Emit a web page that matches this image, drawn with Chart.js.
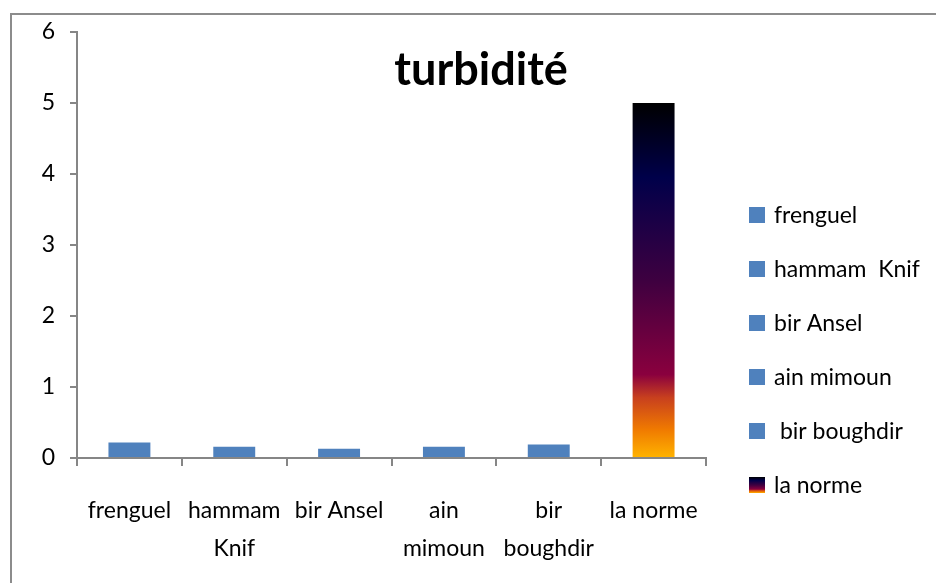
<!DOCTYPE html>
<html><head><meta charset="utf-8">
<script src="https://cdn.jsdelivr.net/npm/chart.js@4"></script>
<style>html,body{margin:0;padding:0;background:#fff}#wrap{width:936px;height:583px}</style>
</head><body><div id="wrap"><canvas id="c" width="936" height="583"></canvas></div>
<script>
const categories = [["frenguel"], ["hammam", "Knif"], ["bir Ansel"], ["ain", "mimoun"], ["bir", "boughdir"], ["la norme"]];
const legendLabels = ["frenguel", "hammam  Knif", "bir Ansel", "ain mimoun", " bir boughdir", "la norme"];
const turbidite = [0.22, 0.16, 0.13, 0.16, 0.19, 5];
const yTicks = [0, 1, 2, 3, 4, 5, 6];
const titleText = "turbidité";

const FONT = "Lato, 'Liberation Sans', sans-serif";
const BLUE = "#4F81BD";
const stops = [[0, "#FFB400"], [0.08, "#F07A00"], [0.17, "#C8401E"], [0.235, "#8A003E"], [0.5, "#3E0040"], [0.79, "#00004A"], [1, "#000000"]];

function makeGrad(ctx, yBottom, yTop) {
  const g = ctx.createLinearGradient(0, yBottom, 0, yTop);
  stops.forEach(s => g.addColorStop(s[0], s[1]));
  return g;
}

const framePlugin = {
  id: 'frame',
  beforeDraw(chart) {
    const ctx = chart.ctx;
    ctx.save();
    ctx.fillStyle = '#fff';
    ctx.fillRect(0, 0, chart.width, chart.height);
    ctx.strokeStyle = '#8c8c8c';
    ctx.lineWidth = 2;
    ctx.strokeRect(11, 14, 1000, 700);
    ctx.restore();
  },
  afterDraw(chart) {
    const ctx = chart.ctx;
    ctx.save();
    ctx.fillStyle = '#000';
    ctx.font = "bold 45px " + FONT;
    ctx.textAlign = 'center';
    ctx.textBaseline = 'middle';
    ctx.fillText(titleText, 481, 70);
    ctx.font = "23px " + FONT;
    ctx.textAlign = 'left';
    legendLabels.forEach((lab, i) => {
      const cy = 215 + i * 54;
      const isNorm = i === legendLabels.length - 1;
      ctx.fillStyle = isNorm ? makeGrad(ctx, cy + 8, cy - 8) : BLUE;
      ctx.fillRect(749, cy - 8, 16, 16);
      ctx.fillStyle = '#000';
      ctx.fillText(lab, 774, cy + 1);
    });
    ctx.restore();
  }
};

new Chart(document.getElementById('c'), {
  type: 'bar',
  data: {
    labels: categories,
    datasets: [{
      label: titleText,
      data: turbidite,
      backgroundColor(ctx) {
        const chart = ctx.chart;
        if (!chart.chartArea) return BLUE;
        if (ctx.dataIndex === turbidite.length - 1) {
          const y = chart.scales.y;
          return makeGrad(chart.ctx, y.getPixelForValue(0), y.getPixelForValue(turbidite[ctx.dataIndex]));
        }
        return BLUE;
      },
      borderWidth: 0,
      categoryPercentage: 1,
      barPercentage: 0.4
    }]
  },
  options: {
    responsive: false,
    animation: false,
    devicePixelRatio: 1,
    layout: { padding: { left: 0, right: 230, top: 32, bottom: 0 } },
    plugins: { legend: { display: false }, tooltip: { enabled: false }, title: { display: false } },
    scales: {
      x: {
        offset: true,
        grid: { offset: true, drawOnChartArea: false, drawTicks: true, tickLength: 8, color: '#868686', lineWidth: 2 },
        border: { display: true, color: '#868686', width: 2 },
        ticks: { color: '#000', font: { family: FONT, size: 23, lineHeight: 1.65 }, padding: 26, autoSkip: false, maxRotation: 0, minRotation: 0 },
        afterFit(s) { s.height = 125; }
      },
      y: {
        min: 0, max: 6,
        afterBuildTicks(s) { s.ticks = yTicks.map(v => ({ value: v })); },
        grid: { drawOnChartArea: false, drawTicks: true, tickLength: 7, color: '#868686', lineWidth: 2 },
        border: { display: true, color: '#868686', width: 2 },
        ticks: { color: '#000', font: { family: FONT, size: 23 }, padding: 15 },
        afterFit(s) { s.width = 77; }
      }
    }
  },
  plugins: [framePlugin]
});
</script>
</body></html>
